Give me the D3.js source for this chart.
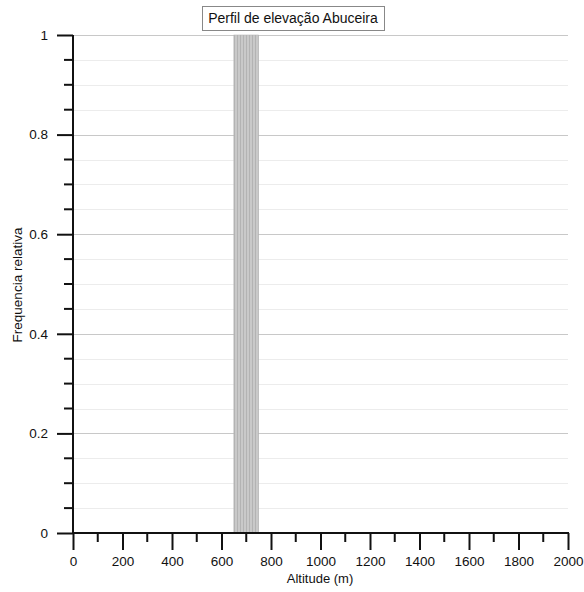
<!DOCTYPE html>
<html>
<head>
<meta charset="utf-8">
<script src="https://cdn.jsdelivr.net/npm/d3@7"></script>
<style>
  html, body { margin: 0; padding: 0; background: #fff; }
  svg { display: block; font-family: Arial, "Liberation Sans", sans-serif; }
</style>
</head>
<body>
<svg id="chart" width="584" height="592"></svg>
<script>
// Elevation profile: relative frequency per altitude bin
const binStart = [650];
const binEnd = [750];
const frequency = [1];
const xTicks = [0, 200, 400, 600, 800, 1000, 1200, 1400, 1600, 1800, 2000];
const yTicks = [0, 0.2, 0.4, 0.6, 0.8, 1];
const titleText = "Perfil de elevação Abuceira";
const xLabel = "Altitude (m)";
const yLabel = "Frequencia relativa";

const svg = d3.select("#chart");
const plotLeft = 73, plotRight = 568, plotTop = 35, plotBottom = 533;

const x = d3.scaleLinear().domain([0, 2000]).range([plotLeft, plotRight]);
const y = d3.scaleLinear().domain([0, 1]).range([plotBottom, plotTop]);

// hatch pattern for the bar
const defs = svg.append("defs");
const pat = defs.append("pattern")
  .attr("id", "stripes")
  .attr("patternUnits", "userSpaceOnUse")
  .attr("width", 3).attr("height", 10);
pat.append("rect").attr("width", 3).attr("height", 10).attr("fill", "#c9c9c9");
pat.append("rect").attr("x", 0).attr("width", 1).attr("height", 10).attr("fill", "#b3b3b3");

// minor gridlines every 0.05
const minor = d3.range(0, 1.0001, 0.05).filter(v => Math.abs(v * 5 - Math.round(v * 5)) > 1e-6);
svg.append("g").selectAll("line").data(minor).join("line")
  .attr("x1", plotLeft).attr("x2", plotRight)
  .attr("y1", d => Math.round(y(d)) + 0.5).attr("y2", d => Math.round(y(d)) + 0.5)
  .attr("stroke", "#ececec").attr("stroke-width", 1);

// major gridlines
svg.append("g").selectAll("line").data(yTicks.filter(d => d > 0)).join("line")
  .attr("x1", plotLeft).attr("x2", plotRight)
  .attr("y1", d => Math.round(y(d)) + 0.5).attr("y2", d => Math.round(y(d)) + 0.5)
  .attr("stroke", "#c8c8c8").attr("stroke-width", 1.2);

// bars
const bins = binStart.map((s, i) => ({ s, e: binEnd[i], f: frequency[i] }));
svg.append("g").selectAll("rect").data(bins).join("rect")
  .attr("x", d => x(d.s)).attr("width", d => x(d.e) - x(d.s))
  .attr("y", d => y(d.f)).attr("height", d => y(0) - y(d.f))
  .attr("fill", "url(#stripes)")
  .attr("stroke", "#b5b5b5").attr("stroke-width", 0.6);

// y axis
const yAxis = d3.axisLeft(y).tickValues(yTicks).tickFormat(d3.format("~g"))
  .tickSize(16).tickPadding(9);
const gy = svg.append("g").attr("transform", `translate(${plotLeft},0)`).call(yAxis);
gy.select(".domain").remove();
gy.selectAll(".tick line").attr("stroke", "#111").attr("stroke-width", 2);
gy.selectAll(".tick text").attr("font-size", 13.5).attr("fill", "#111")
  .attr("font-family", "Arial, 'Liberation Sans', sans-serif");
// y minor ticks
svg.append("g").selectAll("line").data(minor).join("line")
  .attr("x1", plotLeft - 9).attr("x2", plotLeft)
  .attr("y1", d => y(d)).attr("y2", d => y(d))
  .attr("stroke", "#111").attr("stroke-width", 2);

// x axis
const xAxis = d3.axisBottom(x).tickValues(xTicks).tickFormat(d3.format("d"))
  .tickSize(17).tickPadding(6);
const gx = svg.append("g").attr("transform", `translate(0,${plotBottom})`).call(xAxis);
gx.select(".domain").remove();
gx.selectAll(".tick line").attr("stroke", "#111").attr("stroke-width", 2);
gx.selectAll(".tick text").attr("font-size", 13.5).attr("fill", "#111")
  .attr("font-family", "Arial, 'Liberation Sans', sans-serif");
// x minor ticks
const xMinor = d3.range(100, 2000, 200);
svg.append("g").selectAll("line").data(xMinor).join("line")
  .attr("x1", d => x(d)).attr("x2", d => x(d))
  .attr("y1", plotBottom).attr("y2", plotBottom + 9)
  .attr("stroke", "#111").attr("stroke-width", 2);

// axis lines
svg.append("line").attr("x1", plotLeft).attr("x2", plotLeft).attr("y1", plotTop).attr("y2", plotBottom)
  .attr("stroke", "#111").attr("stroke-width", 2);
svg.append("line").attr("x1", plotLeft - 1).attr("x2", plotRight + 1).attr("y1", plotBottom).attr("y2", plotBottom)
  .attr("stroke", "#111").attr("stroke-width", 2);

// axis titles
svg.append("text").attr("x", 320).attr("y", 583)
  .attr("text-anchor", "middle").attr("font-size", 13).attr("fill", "#111").text(xLabel);
svg.append("text").attr("transform", `translate(22,285) rotate(-90)`)
  .attr("text-anchor", "middle").attr("font-size", 13.5).attr("fill", "#111").text(yLabel);

// boxed title
const titleG = svg.append("g");
const t = titleG.append("text").attr("x", 293).attr("y", 23)
  .attr("text-anchor", "middle").attr("font-size", 14).attr("fill", "#111").text(titleText);
const bb = t.node().getBBox();
titleG.insert("rect", "text")
  .attr("x", Math.round(bb.x - 6) + 0.5).attr("y", 6.5)
  .attr("width", Math.round(bb.width + 12)).attr("height", 24)
  .attr("fill", "#fff").attr("stroke", "#888").attr("stroke-width", 1);
</script>
</body>
</html>
